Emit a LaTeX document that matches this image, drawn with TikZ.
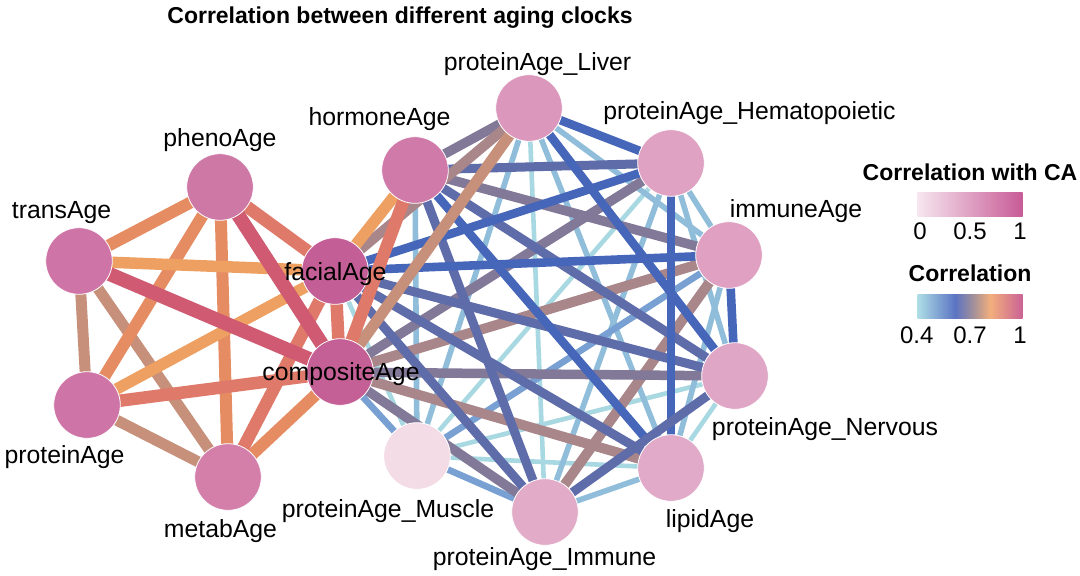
\documentclass[tikz,border=0pt]{standalone}
\usepackage{fontspec}
\setmainfont{Liberation Sans}
\definecolor{elbc}{HTML}{A8D8E2}
\definecolor{emlbc}{HTML}{90BEDA}
\definecolor{embc}{HTML}{78A0D2}
\definecolor{eblc}{HTML}{4666BA}
\definecolor{eslc}{HTML}{5F6CAA}
\definecolor{emvc}{HTML}{827898}
\definecolor{ebrc}{HTML}{A8868A}
\definecolor{etnc}{HTML}{C6907A}
\definecolor{eorc}{HTML}{EEA062}
\definecolor{esoc}{HTML}{E68C63}
\definecolor{esac}{HTML}{DF7A6A}
\definecolor{erdc}{HTML}{CF5A72}
\definecolor{nT}{HTML}{CF74A7}
\definecolor{nPh}{HTML}{CE78A6}
\definecolor{nPr}{HTML}{CE74A6}
\definecolor{nMb}{HTML}{D47EAA}
\definecolor{nF}{HTML}{C45E96}
\definecolor{nC}{HTML}{C46096}
\definecolor{nH}{HTML}{D07AAA}
\definecolor{nL}{HTML}{DB98BC}
\definecolor{nHe}{HTML}{E0A2C2}
\definecolor{nI}{HTML}{DFA0C2}
\definecolor{nN}{HTML}{E0A6C6}
\definecolor{nLi}{HTML}{E0AAC8}
\definecolor{nIm}{HTML}{E2ACC8}
\definecolor{nM}{HTML}{F3DCE6}
\definecolor{ca0}{HTML}{F6E6EF}
\definecolor{ca1}{HTML}{C85B96}
\definecolor{cb0}{HTML}{ADDDE5}
\definecolor{cb1}{HTML}{5B74C3}
\definecolor{cb2}{HTML}{9A8C9E}
\definecolor{cb3}{HTML}{F2AF7C}
\definecolor{cb4}{HTML}{CB6196}
\pgfdeclarehorizontalshading{corrbar}{100bp}{color(0bp)=(cb0); color(25bp)=(cb0); color(42.8bp)=(cb1); color(50.5bp)=(cb2); color(59.5bp)=(cb3); color(75bp)=(cb4); color(100bp)=(cb4)}
\pgfdeclarelayer{bg}
\pgfdeclarelayer{edges}
\pgfsetlayers{bg,edges,main}
\begin{document}
\begin{tikzpicture}[x=0.5pt,y=-0.5pt,
  bubble/.style={circle, minimum size=33.3pt, inner sep=0pt, draw=white, line width=0.4pt},
  lab/.style={anchor=base, font=\fontsize{12.4}{14}\selectfont, inner sep=0pt},
  ttl/.style={anchor=base, font=\fontsize{11.5}{14}\selectfont\bfseries, inner sep=0pt},
  tick/.style={anchor=base, font=\fontsize{12}{14}\selectfont, inner sep=0pt},
  elb/.style={draw=elbc, line width=2.3pt},
  emlb/.style={draw=emlbc, line width=2.8pt},
  emb/.style={draw=embc, line width=3.3pt},
  ebl/.style={draw=eblc, line width=4.3pt},
  esl/.style={draw=eslc, line width=4.5pt},
  emv/.style={draw=emvc, line width=4.75pt},
  ebr/.style={draw=ebrc, line width=5pt},
  etn/.style={draw=etnc, line width=5.5pt},
  eor/.style={draw=eorc, line width=5.75pt},
  eso/.style={draw=esoc, line width=6pt},
  esa/.style={draw=esac, line width=6.25pt},
  erd/.style={draw=erdc, line width=7pt}
]
\useasboundingbox (0,0) rectangle (1080,575);
\begin{pgfonlayer}{bg}
\fill[white] (0,0) rectangle (1080,575);
\end{pgfonlayer}

% nodes
\node[bubble, fill=nT]  (T)  at (79,261) {};
\node[bubble, fill=nPh] (Ph) at (220,187) {};
\node[bubble, fill=nPr] (Pr) at (87,405) {};
\node[bubble, fill=nMb] (Mb) at (228,477) {};
\node[bubble, fill=nF]  (F)  at (335,271) {};
\node[bubble, fill=nC]  (C)  at (340,372) {};
\node[bubble, fill=nH]  (H)  at (415,170) {};
\node[bubble, fill=nL]  (L)  at (529,108) {};
\node[bubble, fill=nHe] (He) at (671,163) {};
\node[bubble, fill=nI]  (I)  at (729,255) {};
\node[bubble, fill=nN]  (N)  at (735,376) {};
\node[bubble, fill=nLi] (Li) at (671,468) {};
\node[bubble, fill=nIm] (Im) at (545,512) {};
\node[bubble, fill=nM]  (M)  at (417,456) {};

\begin{pgfonlayer}{edges}
% left clique
\draw[etn] (T.center) -- (Pr.center);
\draw[etn] (T.center) -- (Mb.center);
\draw[etn] (Pr.center) -- (Mb.center);
\draw[eso] (T.center) -- (Ph.center);
\draw[eso] (Ph.center) -- (Pr.center);
\draw[eso] (Ph.center) -- (Mb.center);
\draw[eso] (Mb.center) -- (C.center);
\draw[esa] (Mb.center) -- (F.center);
\draw[eor] (T.center) -- (F.center);
\draw[eor] (Pr.center) -- (F.center);
\draw[esa] (Pr.center) -- (C.center);
\draw[esa] (Ph.center) -- (F.center);
\draw[erd] (T.center) -- (C.center);
\draw[erd] (Ph.center) -- (C.center);
\draw[esa] (F.center) -- (C.center);
% right clique: light first
\draw[elb] (F.center) -- (M.center);
\draw[elb] (L.center) -- (Im.center);
\draw[elb] (He.center) -- (M.center);
\draw[elb] (N.center) -- (Li.center);
\draw[elb] (N.center) -- (M.center);
\draw[elb] (Li.center) -- (M.center);
\draw[emlb] (H.center) -- (M.center);
\draw[emlb] (L.center) -- (I.center);
\draw[emlb] (L.center) -- (Li.center);
\draw[emlb] (L.center) -- (M.center);
\draw[emlb] (He.center) -- (I.center);
\draw[emlb] (He.center) -- (N.center);
\draw[emlb] (He.center) -- (Im.center);
\draw[emlb] (I.center) -- (Li.center);
\draw[emlb] (Li.center) -- (Im.center);
\draw[emb] (C.center) -- (M.center);
\draw[emb] (I.center) -- (M.center);
\draw[emb] (Im.center) -- (M.center);
\draw[ebr] (I.center) -- (Im.center);
\draw[ebr] (C.center) -- (Li.center);
\draw[ebr] (C.center) -- (I.center);
\draw[emv] (C.center) -- (N.center);
\draw[emv] (C.center) -- (Im.center);
\draw[emv] (C.center) -- (He.center);
\draw[emv] (H.center) -- (L.center);
\draw[emv] (H.center) -- (I.center);
\draw[esl] (H.center) -- (He.center);
\draw[esl] (H.center) -- (N.center);
\draw[esl] (H.center) -- (Im.center);
\draw[esl] (F.center) -- (N.center);
\draw[esl] (F.center) -- (Im.center);
\draw[esl] (F.center) -- (Li.center);
\draw[ebl] (H.center) -- (Li.center);
\draw[ebl] (L.center) -- (He.center);
\draw[ebl] (L.center) -- (N.center);
\draw[ebl] (He.center) -- (Li.center);
\draw[ebl] (I.center) -- (N.center);
\draw[ebl] (F.center) -- (He.center);
\draw[ebl] (F.center) -- (I.center);
\draw[esl] (N.center) -- (Im.center);
\draw[ebr] (F.center) -- (L.center);
\draw[etn] (C.center) -- (L.center);
\draw[eor] (F.center) -- (H.center);
\draw[esa] (C.center) -- (H.center);
\end{pgfonlayer}

% labels
\node[ttl] (title) at (400,23) {Correlation between different aging clocks};
\node[lab] (lPh) at (220,146) {phenoAge};
\node[lab] (lT)  at (61.5,218) {transAge};
\node[lab] (lPr) at (64.5,463) {proteinAge};
\node[lab] (lMb) at (220.5,537) {metabAge};
\node[lab] (lF)  at (335.5,280) {facialAge};
\node[lab] (lC)  at (341,380) {compositeAge};
\node[lab] (lH)  at (379.5,125) {hormoneAge};
\node[lab] (lL)  at (537.5,70) {proteinAge\_Liver};
\node[lab] (lHe) at (749.5,119) {proteinAge\_Hematopoietic};
\node[lab] (lI)  at (796,217) {immuneAge};
\node[lab] (lN)  at (825,435) {proteinAge\_Nervous};
\node[lab] (lLi) at (710,527) {lipidAge};
\node[lab] (lIm) at (544.5,565) {proteinAge\_Immune};
\node[lab] (lM)  at (388,517) {proteinAge\_Muscle};

% legend
\node[ttl] (lg1) at (970,180.5) {Correlation with CA};
\shade[left color=ca0, right color=ca1] (917.7,192.3) rectangle (1022.7,216);
\node[tick] (t10) at (920,239) {0};
\node[tick] (t11) at (970,239) {0.5};
\node[tick] (t12) at (1020,239) {1};
\node[ttl] (lg2) at (970,281.5) {Correlation};
\shade[shading=corrbar] (917.7,294.3) rectangle (1022.7,318.3);
\node[tick] (t20) at (916.7,343) {0.4};
\node[tick] (t21) at (970,343) {0.7};
\node[tick] (t22) at (1020,343) {1};
\end{tikzpicture}
\end{document}
